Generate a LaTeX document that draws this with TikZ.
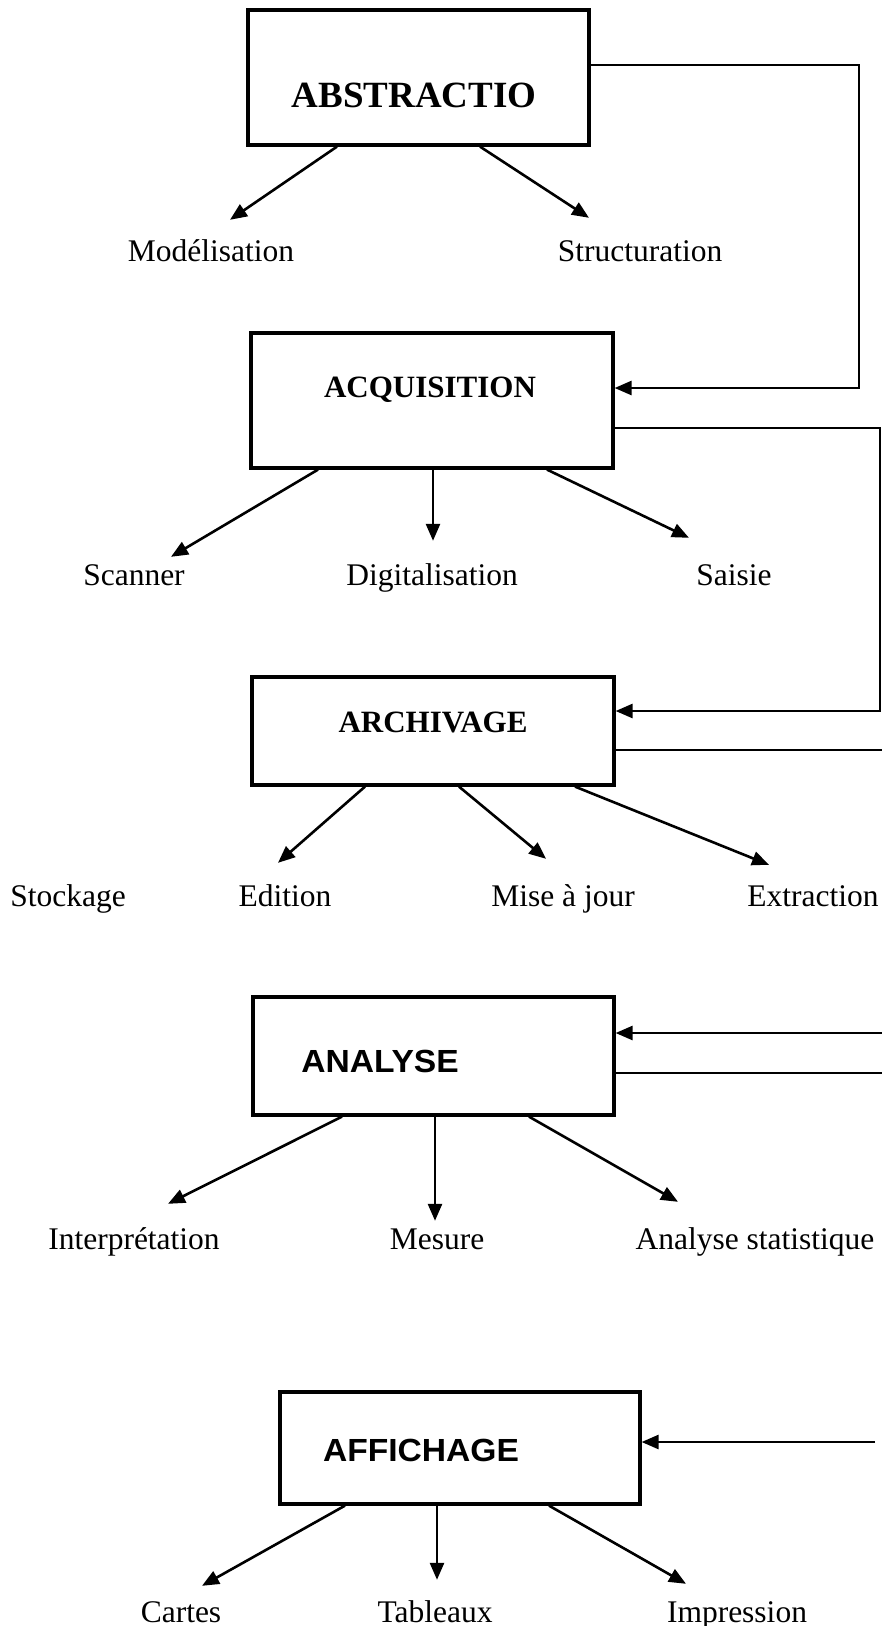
\documentclass[tikz,border=0pt]{standalone}
\usepackage{fontspec}
\setmainfont{Liberation Serif}
\newfontfamily\titlesans[FakeStretch=1.05]{Liberation Sans}
\usetikzlibrary{arrows.meta}
\tikzset{
  boxst/.style={draw, line width=3.2pt, inner sep=0pt},
  titleserif/.style={anchor=base, inner sep=0pt, font=\bfseries},
  titlesansst/.style={anchor=base, inner sep=0pt, font=\titlesans\bfseries\fontsize{32}{34}\selectfont},
  lbl/.style={anchor=base, inner sep=0pt, text height=22pt, text depth=6pt, font=\fontsize{31.5}{33}\selectfont},
  conn/.style={line width=2.6pt, -{Triangle[length=17pt,width=14pt]}},
  plain/.style={line width=2.6pt}
}
\begin{document}
\begin{tikzpicture}[x=1pt,y=-1pt]
\useasboundingbox (0,0) rectangle (882,1626);
\fill[white] (0,0) rectangle (882,1626);
% boxes
\node[boxst, minimum width=341pt, minimum height=135pt] (abs) at (418.5,77.5) {};
\node[boxst, minimum width=362pt, minimum height=135pt] (acq) at (432,400.5) {};
\node[boxst, minimum width=362pt, minimum height=108pt] (arc) at (433,731) {};
\node[boxst, minimum width=361pt, minimum height=118pt] (ana) at (433.5,1056) {};
\node[boxst, minimum width=360pt, minimum height=112pt] (aff) at (460,1448) {};
% titles
\node[titleserif, font=\bfseries\fontsize{37}{40}\selectfont] (absT) at (414,107) {ABSTRACTIO};
\node[titleserif, font=\bfseries\fontsize{31}{34}\selectfont] (acqT) at (430,397) {ACQUISITION};
\node[titleserif, font=\bfseries\fontsize{31}{34}\selectfont] (arcT) at (433,732) {ARCHIVAGE};
\node[titlesansst] (anaT) at (380,1072) {ANALYSE};
\node[titlesansst] (affT) at (421,1461) {AFFICHAGE};
% labels
\node[lbl] (mod) at (211,261) {Modélisation};
\node[lbl] (str) at (640,261) {Structuration};
\node[lbl] (sca) at (134,585) {Scanner};
\node[lbl] (dig) at (432,585) {Digitalisation};
\node[lbl] (sai) at (734,585) {Saisie};
\node[lbl] (sto) at (68,906) {Stockage};
\node[lbl] (edi) at (285,906) {Edition};
\node[lbl] (mis) at (563,906) {Mise à jour};
\node[lbl] (ext) at (813,906) {Extraction};
\node[lbl] (int) at (134,1249) {Interprétation};
\node[lbl] (mes) at (437,1249) {Mesure};
\node[lbl] (ast) at (755,1249) {Analyse statistique};
\node[lbl] (car) at (181,1622) {Cartes};
\node[lbl] (tab) at (435,1622) {Tableaux};
\node[lbl] (imp) at (737,1622) {Impression};
% downward arrows
\draw[conn] ([xshift=-81.5pt]abs.south) -- ([xshift=19pt,yshift=19pt]mod.north);
\draw[conn] ([xshift=61.5pt]abs.south) -- ([xshift=-51pt,yshift=21pt]str.north);
\draw[conn] ([xshift=-114pt]acq.south) -- ([xshift=37pt,yshift=6pt]sca.north);
\draw[conn] ([xshift=1pt]acq.south) -- ([xshift=1pt,yshift=22pt]dig.north);
\draw[conn] ([xshift=115pt]acq.south) -- ([xshift=-45pt,yshift=25pt]sai.north);
\draw[conn] ([xshift=-68pt]arc.south) -- ([xshift=-7pt,yshift=21pt]edi.north);
\draw[conn] ([xshift=26pt]arc.south) -- ([xshift=-17pt,yshift=25pt]mis.north);
\draw[conn] ([xshift=142pt]arc.south) -- ([xshift=-44pt,yshift=19pt]ext.north);
\draw[conn] ([xshift=-91.5pt]ana.south) -- ([xshift=34pt,yshift=23pt]int.north);
\draw[conn] ([xshift=1.5pt]ana.south) -- ([xshift=-2pt,yshift=6pt]mes.north);
\draw[conn] ([xshift=95.5pt]ana.south) -- ([xshift=-77pt,yshift=25pt]ast.north);
\draw[conn] ([xshift=-115pt]aff.south) -- ([xshift=21pt,yshift=14pt]car.north);
\draw[conn] ([xshift=-23pt]aff.south) -- ([xshift=2pt,yshift=20pt]tab.north);
\draw[conn] ([xshift=89pt]aff.south) -- ([xshift=-51pt,yshift=16pt]imp.north);
% right-hand connectors
\coordinate (c1) at (859,200);
\coordinate (c2) at (880,560);
\coordinate (e1) at (882,750);
\coordinate (e2) at (882,1033);
\coordinate (e3) at (882,1073);
\coordinate (e4) at (875,1442);
\draw[conn] ([yshift=12.5pt]abs.east) -| (c1) |- ([yshift=12.5pt]acq.east);
\draw[conn] ([yshift=-27.5pt]acq.east) -| (c2) |- ([yshift=20pt]arc.east);
\draw[plain] ([yshift=-19pt]arc.east) -- (e1);
\draw[conn] (e2) -- ([yshift=23pt]ana.east);
\draw[plain] ([yshift=-17pt]ana.east) -- (e3);
\draw[conn] (e4) -- ([yshift=6pt]aff.east);
\end{tikzpicture}
\end{document}
